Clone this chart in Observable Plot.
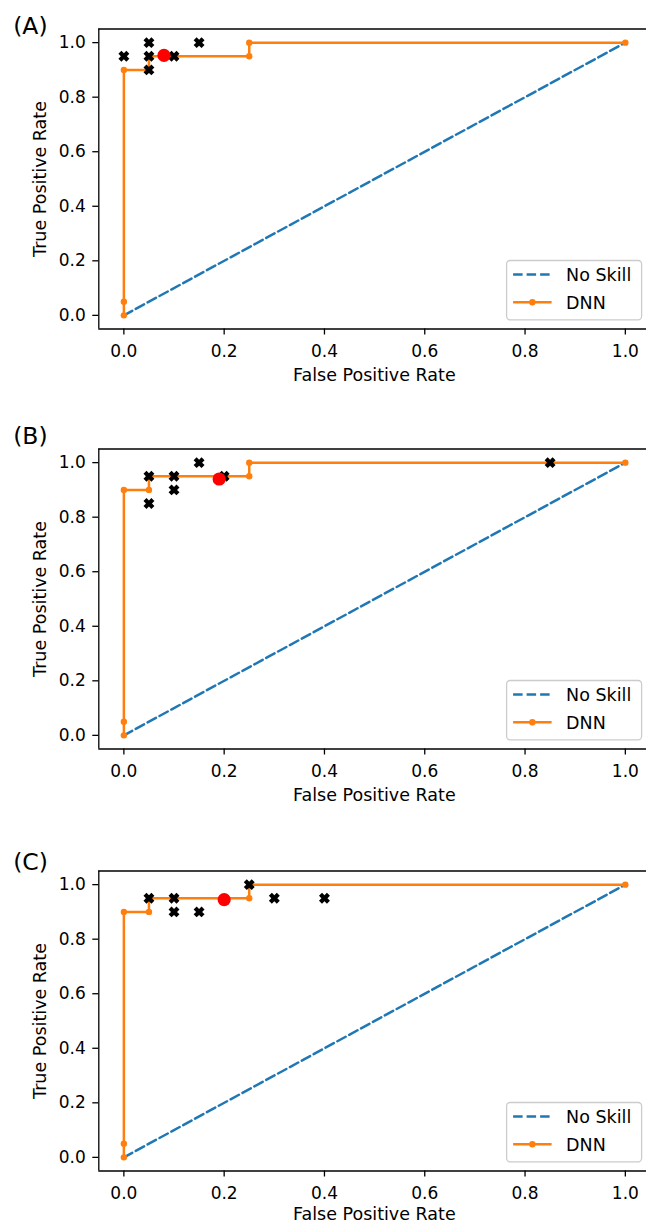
<!DOCTYPE html>
<html><head><meta charset="utf-8">
<script src="https://cdn.jsdelivr.net/npm/d3@7"></script>
<script src="https://cdn.jsdelivr.net/npm/@observablehq/plot@0.6"></script>
<style>
body{margin:0;background:#fff;overflow:hidden}
svg{display:block}
</style>
</head><body><div id="chart"></div>
<script>
// ---- data ----
const panelLabels = ["(A)", "(B)", "(C)"];
const noSkillFPR = [0, 1];
const noSkillTPR = [0, 1];
const dnnFPR = [0, 0, 0, 0.05, 0.05, 0.25, 0.25, 1];
const dnnTPR = [0, 0.05, 0.9, 0.9, 0.95, 0.95, 1, 1];
const thrFPR = [
  [0, 0.05, 0.05, 0.05, 0.1, 0.15],
  [0.05, 0.05, 0.1, 0.1, 0.15, 0.2, 0.85],
  [0.05, 0.1, 0.1, 0.15, 0.25, 0.3, 0.4]
];
const thrTPR = [
  [0.95, 1, 0.95, 0.9, 0.95, 1],
  [0.95, 0.85, 0.95, 0.9, 1, 0.95, 1],
  [0.95, 0.95, 0.9, 0.9, 1, 0.95, 0.95]
];
const bestFPR = [0.08, 0.19, 0.2];
const bestTPR = [0.953, 0.94, 0.945];
const tickValues = [0, 0.2, 0.4, 0.6, 0.8, 1.0];
const legendLabels = ["No Skill", "DNN"];
const xLabel = "False Positive Rate";
const yLabel = "True Positive Rate";

// ---- layout ----
const W = 646;
const heights = [420, 422, 381];
const labelDy = [4.8, -5.2, -1.2];
const xLabelDy = [52.2, 52.2, 48.6];
const mTop = 28.5, frameH = 300, mLeft = 98.3;
const xDomain = [-0.05, 1.0422];
const yDomain = [-0.05, 1.05];
const BLUE = "#1f77b4", ORANGE = "#ff7f0e";
const FONT = "DejaVu Sans, sans-serif";

const filledX = {
  draw(ctx, size) {
    const r = Math.sqrt(size / Math.PI), a = r, t = 0.38 * r;
    const pts = [[t,a],[t,t],[a,t],[a,-t],[t,-t],[t,-a],[-t,-a],[-t,-t],[-a,-t],[-a,t],[-t,t],[-t,a]]
      .map(([x, y]) => [(x - y) / Math.SQRT2, (x + y) / Math.SQRT2]);
    ctx.moveTo(pts[0][0], pts[0][1]);
    for (let i = 1; i < pts.length; i++) ctx.lineTo(pts[i][0], pts[i][1]);
    ctx.closePath();
  }
};

const chart = document.getElementById("chart");
const noSkill = noSkillFPR.map((x, i) => ({x, y: noSkillTPR[i]}));
const dnn = dnnFPR.map((x, i) => ({x, y: dnnTPR[i]}));

panelLabels.forEach((lab, p) => {
  const h = heights[p];
  const thr = thrFPR[p].map((x, i) => ({x, y: thrTPR[p][i]}));
  const best = [{x: bestFPR[p], y: bestTPR[p]}];
  const svg = Plot.plot({
    width: W, height: h,
    marginLeft: mLeft, marginRight: 0, marginTop: mTop, marginBottom: h - mTop - frameH,
    style: {fontFamily: FONT, fontSize: "17px", color: "#000", background: "#fff", overflow: "visible"},
    x: {domain: xDomain, label: null},
    y: {domain: yDomain, label: null},
    marks: [
      Plot.ruleX([xDomain[0]], {stroke: "#000", strokeWidth: 1.3}),
      Plot.ruleY([yDomain[0]], {stroke: "#000", strokeWidth: 1.3}),
      Plot.ruleY([yDomain[1]], {stroke: "#000", strokeWidth: 1.3}),
      Plot.axisX({ticks: tickValues, tickFormat: d3.format(".1f"), tickSize: 6, tickPadding: 9.5, strokeWidth: 1.3, fontSize: 17, label: null}),
      Plot.axisY({ticks: tickValues, tickFormat: d3.format(".1f"), tickSize: 6, tickPadding: 7, strokeWidth: 1.3, fontSize: 17, label: null}),
      Plot.line(noSkill, {x: "x", y: "y", stroke: BLUE, strokeWidth: 2.5, strokeDasharray: "9.5,4"}),
      Plot.line(dnn, {x: "x", y: "y", stroke: ORANGE, strokeWidth: 2.5}),
      Plot.dot(dnn, {x: "x", y: "y", r: 3.2, fill: ORANGE}),
      Plot.dot(thr, {x: "x", y: "y", r: 5.6, symbol: filledX, fill: "#000"}),
      Plot.dot(best, {x: "x", y: "y", r: 6.6, fill: "red"}),
      Plot.text([xLabel], {frameAnchor: "bottom", textAnchor: "middle", lineAnchor: "bottom", dx: 1.7, dy: xLabelDy[p], fontSize: 17.5, fill: "#000"}),
      Plot.text([yLabel], {frameAnchor: "left", textAnchor: "middle", rotate: -90, lineAnchor: "middle", dx: -58.6, fontSize: 17.5, fill: "#000"}),
      Plot.text([lab], {frameAnchor: "top-left", textAnchor: "start", lineAnchor: "bottom", dx: 12.7 - mLeft, dy: labelDy[p], fontSize: 23.5, fill: "#000"})
    ]
  });
  // legend (lower right)
  const xs = svg.scale("x"), ys = svg.scale("y");
  const fr = xs.apply(1.05), fb = ys.apply(yDomain[0]);
  const boxR = fr - 8.3, boxB = fb - 8.7, boxW = 135, boxH = 59.3;
  const g = d3.select(svg).append("g").attr("font-family", FONT).attr("font-size", 17.5).attr("text-anchor", "start");
  g.append("rect").attr("x", boxR - boxW).attr("y", boxB - boxH).attr("width", boxW).attr("height", boxH)
    .attr("rx", 3.5).attr("fill", "#fff").attr("fill-opacity", 0.8).attr("stroke", "#cccccc").attr("stroke-width", 1.3);
  const lx0 = boxR - boxW + 6.5, lx1 = lx0 + 38.5, tx = lx0 + 53;
  const rows = [boxB - boxH + 14, boxB - boxH + 41.7];
  g.append("line").attr("x1", lx0).attr("x2", lx1).attr("y1", rows[0]).attr("y2", rows[0])
    .attr("stroke", BLUE).attr("stroke-width", 2.5).attr("stroke-dasharray", "9.5,4");
  g.append("line").attr("x1", lx0).attr("x2", lx1).attr("y1", rows[1]).attr("y2", rows[1])
    .attr("stroke", ORANGE).attr("stroke-width", 2.5);
  g.append("circle").attr("cx", (lx0 + lx1) / 2).attr("cy", rows[1]).attr("r", 3.2).attr("fill", ORANGE);
  legendLabels.forEach((t, i) => {
    g.append("text").attr("x", tx).attr("y", rows[i]).attr("dy", "0.36em").attr("fill", "#000").attr("text-anchor", "start").text(t);
  });
  chart.appendChild(svg);
});
</script>
</body></html>
